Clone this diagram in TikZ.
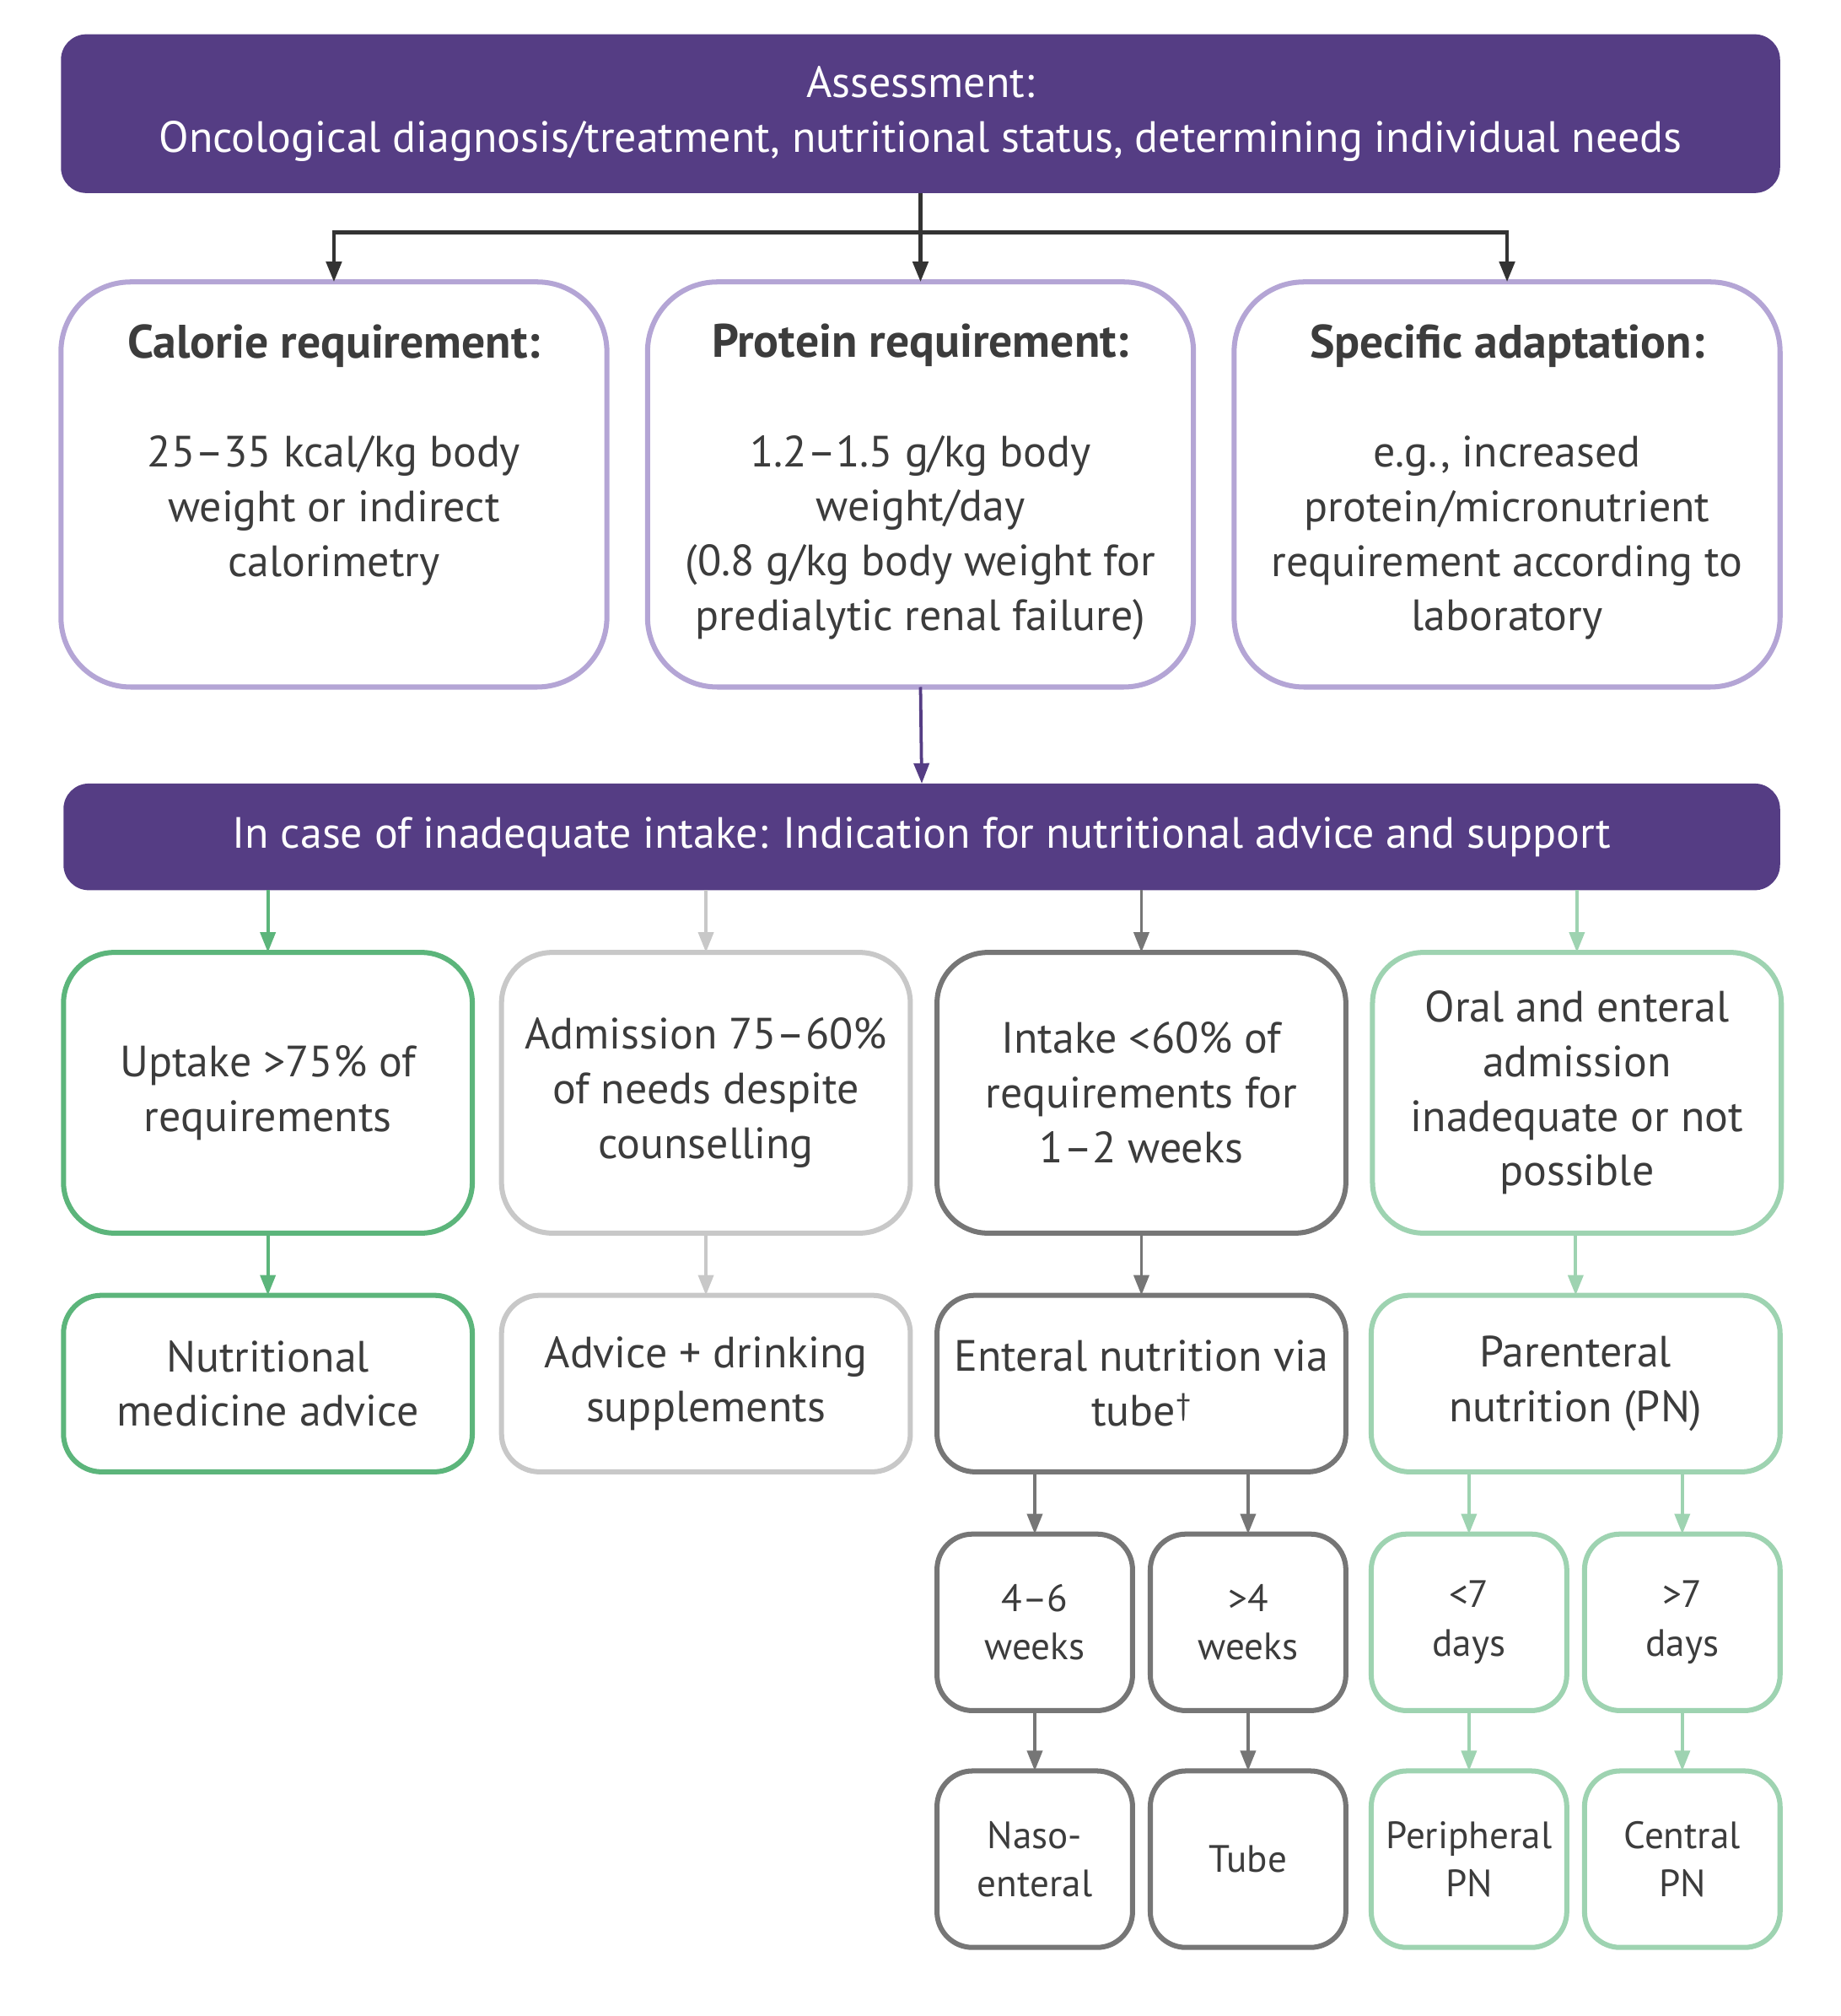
\documentclass[tikz,border=0pt]{standalone}
\usepackage{fontspec}
\setmainfont{PT Sans}
\usetikzlibrary{arrows.meta,calc}
\definecolor{purp}{HTML}{553D84}
\definecolor{lav}{HTML}{B4A5D5}
\definecolor{grn}{HTML}{5CB57B}
\definecolor{lgray}{HTML}{C8C8C8}
\definecolor{dgray}{HTML}{767676}
\definecolor{lgrn}{HTML}{9ED3B1}
\definecolor{txtc}{HTML}{3C3C3C}
\definecolor{conn}{HTML}{333333}
\begin{document}
\begin{tikzpicture}[x=1pt,y=-1pt,
  every node/.style={font=\fontsize{34.5}{43}\selectfont, text=txtc, align=center, inner sep=0pt, outer sep=0pt},
  band/.style={fill=purp, rounded corners=20pt, text=white},
  bigbox/.style={draw=lav, line width=4pt, fill=white, rounded corners=55pt, minimum width=430pt, minimum height=319pt},
  midbox/.style={draw=#1, line width=4pt, fill=white, rounded corners=40pt, minimum width=322pt, minimum height=221pt},
  lowbox/.style={draw=#1, line width=4pt, fill=white, rounded corners=30pt, minimum width=322pt, minimum height=139pt},
  smallbox/.style={draw=#1, line width=4pt, fill=white, rounded corners=28pt, minimum width=154pt, minimum height=139pt, font=\fontsize{30}{38}\selectfont},
  arr/.style={draw=#1, line width=2.5pt, -{Triangle[length=16pt,width=12pt]}},
  ttl/.style={font=\fontsize{37}{43}\selectfont\bfseries},
]
\useasboundingbox (0,0) rectangle (1450,1587.5);

% top band
\node[band, minimum width=1354pt, minimum height=125pt] (top) at (725,89.5)
  {Assessment:\\Oncological diagnosis/treatment, nutritional status, determining individual needs};

% requirement boxes
\node[bigbox] (cal) at (263,381.5) {};
\node[bigbox] (prot) at (725,381.5) {};
\node[bigbox] (spec) at (1187,381.5) {};
\node (calt) at (263,358) {{\fontsize{37}{43}\selectfont\bfseries Calorie requirement:}\\[43pt]25–35 kcal/kg body\\weight or indirect\\calorimetry};
\node (prott) at (725,379.5) {{\fontsize{37}{43}\selectfont\bfseries Protein requirement:}\\[43pt]1.2–1.5 g/kg body\\weight/day\\(0.8 g/kg body weight for\\predialytic renal failure)};
\node (spect) at (1187,379.5) {{\fontsize{37}{43}\selectfont\bfseries Specific adaptation:}\\[43pt]e.g., increased\\protein/micronutrient\\requirement according to\\laboratory};

\coordinate (j) at (725,183);
\draw[conn, line width=3pt] (top.south) -- (j);
\draw[arr=conn, line width=3pt] (j) -- (prot.north);
\draw[arr=conn, line width=3pt] (j) -| (cal.north);
\draw[arr=conn, line width=3pt] (j) -| (spec.north);

% second band
\node[band, minimum width=1352pt, minimum height=84pt] (band) at (726,659)
  {In case of inadequate intake: Indication for nutritional advice and support};
\draw[arr=purp] (prot.south) -- (band.north);

% row 4
\node[midbox=grn] (a4) at (211,860.5) {Uptake >75\% of\\requirements};
\node[midbox=lgray] (b4) at (556,860.5) {Admission 75–60\%\\of needs despite\\counselling};
\node[midbox=dgray] (c4) at (899,860.5) {Intake <60\% of\\requirements for\\1–2 weeks};
\node[midbox=lgrn] (d4) at (1242,860.5) {Oral and enteral\\admission\\inadequate or not\\possible};
\draw[arr=grn] (band.south -| a4.north) -- (a4.north);
\draw[arr=lgray] (band.south -| b4.north) -- (b4.north);
\draw[arr=dgray] (band.south -| c4.north) -- (c4.north);
\draw[arr=lgrn] (band.south -| d4.north) -- (d4.north);

% row 5
\node[lowbox=grn] (a5) at (211,1089.5) {Nutritional\\medicine advice};
\node[lowbox=lgray] (b5) at (556,1089.5) {Advice + drinking\\supplements};
\node[lowbox=dgray] (c5) at (899,1089.5) {Enteral nutrition via\\tube\textsuperscript{†}};
\node[lowbox=lgrn] (d5) at (1241,1089.5) {Parenteral\\nutrition (PN)};
\draw[arr=grn] (a4) -- (a5);
\draw[arr=lgray] (b4) -- (b5);
\draw[arr=dgray] (c4) -- (c5);
\draw[arr=lgrn] (d4.south -| d5.north) -- (d5.north);

% row 6
\node[smallbox=dgray] (a6) at (815,1277.5) {4–6\\weeks};
\node[smallbox=dgray] (b6) at (983,1277.5) {>4\\weeks};
\node[smallbox=lgrn] (c6) at (1157,1277.5) {<7\\days};
\node[smallbox=lgrn] (d6) at (1325,1277.5) {>7\\days};
\draw[arr=dgray] (c5.south -| a6.north) -- (a6.north);
\draw[arr=dgray] (c5.south -| b6.north) -- (b6.north);
\draw[arr=lgrn] (d5.south -| c6.north) -- (c6.north);
\draw[arr=lgrn] (d5.south -| d6.north) -- (d6.north);

% row 7
\node[smallbox=dgray] (a7) at (815,1464) {Naso-\\enteral};
\node[smallbox=dgray] (b7) at (983,1464) {Tube};
\node[smallbox=lgrn] (c7) at (1157,1464) {Peripheral\\PN};
\node[smallbox=lgrn] (d7) at (1325,1464) {Central\\PN};
\draw[arr=dgray] (a6) -- (a7);
\draw[arr=dgray] (b6) -- (b7);
\draw[arr=lgrn] (c6) -- (c7);
\draw[arr=lgrn] (d6) -- (d7);
\end{tikzpicture}
\end{document}
